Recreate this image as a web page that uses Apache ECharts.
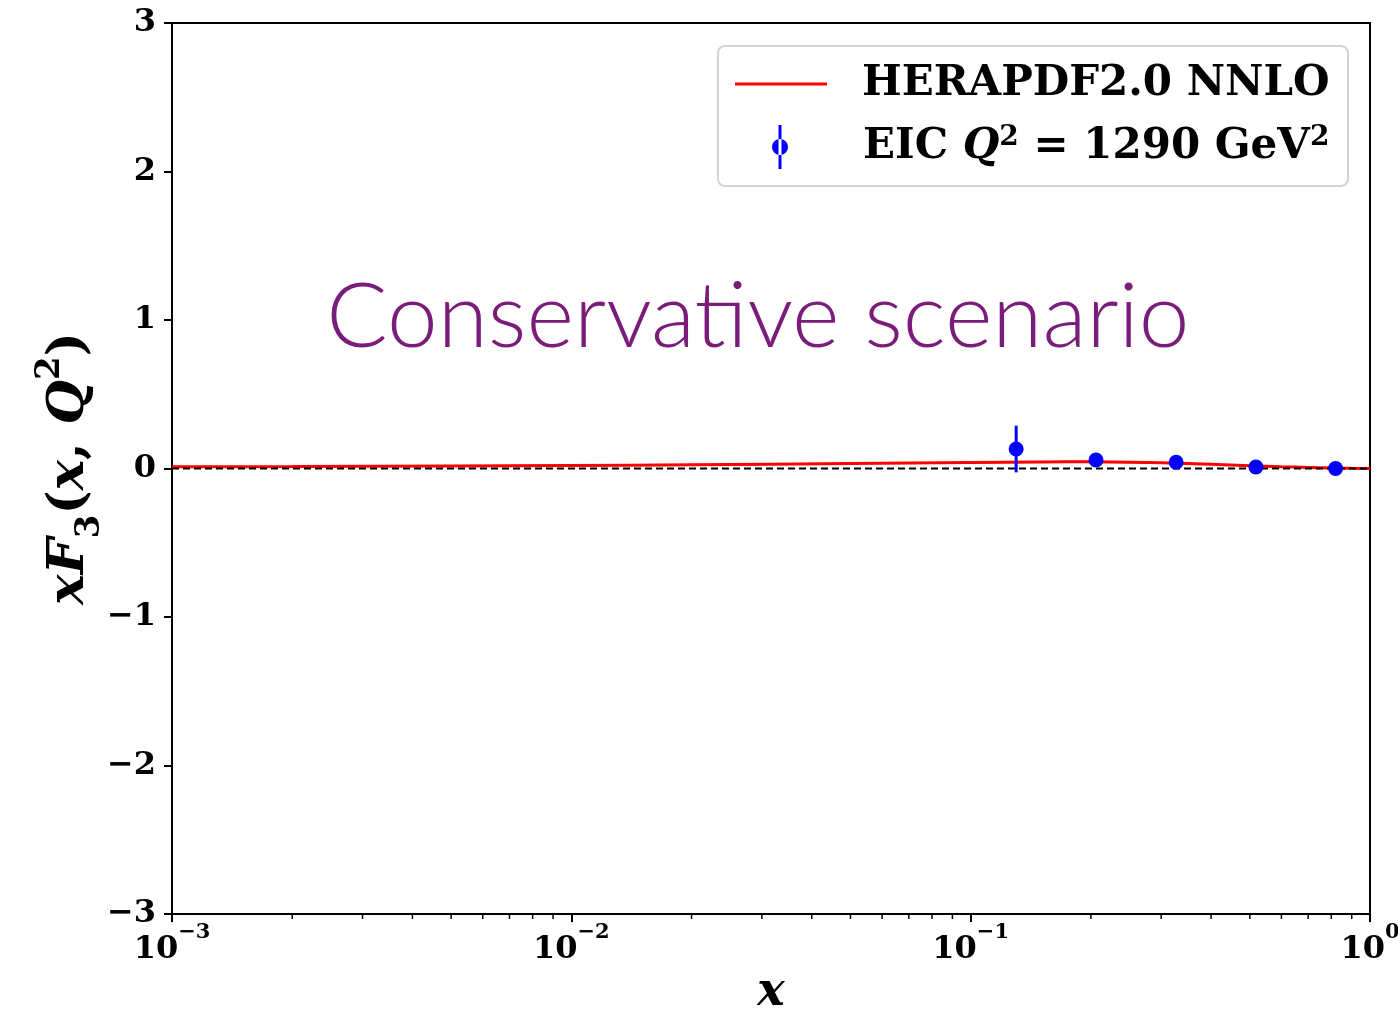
<!DOCTYPE html>
<html>
<head>
<meta charset="utf-8">
<script src="https://cdn.jsdelivr.net/npm/echarts@6/dist/echarts.min.js"></script>
<style>
  html, body { margin: 0; padding: 0; background: #fff; }
  #chart { width: 1398px; height: 1020px; }
</style>
</head>
<body>
<div id="chart"></div>
<script>
// EIC pseudo-data points (bin centres in x) with uncertainties
const xPoints = [0.13, 0.206, 0.327, 0.518, 0.82];
const yPoints = [0.131, 0.057, 0.042, 0.010, 0.0];
const yErrors = [0.157, 0.02, 0.015, 0.01, 0.008];

// HERAPDF2.0 NNLO prediction for xF3
const curveX = [0.001, 0.002, 0.005, 0.01, 0.02, 0.05, 0.1, 0.15, 0.2, 0.3, 0.4, 0.5, 0.6, 0.7, 0.8, 0.9, 1.0];
const curveY = [0.012, 0.013, 0.017, 0.020, 0.025, 0.034, 0.041, 0.044, 0.045, 0.038, 0.028, 0.019, 0.012, 0.007, 0.003, 0.001, 0.0];

const xDecades = [-3, -2, -1, 0];
const minorMultipliers = [2, 3, 4, 5, 6, 7, 8, 9];

const curveName = 'HERAPDF2.0 NNLO';
const dataName = 'EIC Q2 = 1290 GeV2';

const SERIF = '"DejaVu Serif", "Liberation Serif", serif';

const curve = curveX.map((x, i) => [x, curveY[i]]);
const points = xPoints.map((x, i) => [x, yPoints[i]]);
const errBars = xPoints.map((x, i) => [x, yPoints[i], yErrors[i]]);

// minor tick positions on the log axis (2..9 x 10^k)
const minorTicks = [];
xDecades.slice(0, -1).forEach(k => {
  minorMultipliers.forEach(m => minorTicks.push([m * Math.pow(10, k), -3]));
});

const chart = echarts.init(document.getElementById('chart'), null, { renderer: 'canvas' });

const mathRich = {
  n: { fontFamily: SERIF, fontWeight: 'bold', fontSize: 32, color: '#000', lineHeight: 44, verticalAlign: 'bottom' },
  s: { fontFamily: SERIF, fontWeight: 'bold', fontSize: 21, color: '#000', lineHeight: 22, verticalAlign: 'top' }
};

const legendRich = {
  gap1: { width: 30 },
  gap2: { width: 70 },
  t: { fontFamily: SERIF, fontWeight: 'bold', fontSize: 42, color: '#000', lineHeight: 46 },
  i: { fontFamily: SERIF, fontWeight: 'bold', fontStyle: 'italic', fontSize: 42, color: '#000', lineHeight: 46 },
  s: { fontFamily: SERIF, fontWeight: 'bold', fontSize: 28, color: '#000', lineHeight: 28, verticalAlign: 'top' }
};

const option = {
  animation: false,
  backgroundColor: '#fff',
  grid: {
    left: 172, right: 28, top: 23, bottom: 106,
    outerBoundsMode: 'none',
    containLabel: false,
    show: true, borderColor: '#000', borderWidth: 2, backgroundColor: 'transparent'
  },
  xAxis: {
    type: 'log',
    logBase: 10,
    min: 0.001,
    max: 1,
    name: 'x',
    nameLocation: 'middle',
    nameGap: 56,
    nameMoveOverlap: false,
    nameTextStyle: { fontFamily: SERIF, fontWeight: 'bold', fontStyle: 'italic', fontSize: 46, color: '#000' },
    axisLine: { show: true, onZero: false, lineStyle: { color: '#000', width: 2 } },
    axisTick: { show: true, length: 8, lineStyle: { color: '#000', width: 2 } },
    splitLine: { show: false },
    axisLabel: {
      margin: 8,
      color: '#000',
      formatter: v => {
        const e = Math.round(Math.log10(v));
        const exp = e < 0 ? '−' + (-e) : String(e);
        return '{n|10}{s|' + exp + '}';
      },
      rich: mathRich
    }
  },
  yAxis: {
    type: 'value',
    min: -3,
    max: 3,
    interval: 1,
    name: '{i|x}{i|F}{b|3}{r|(}{i|x}{r|, }{i|Q}{p|2}{r|)}',
    nameLocation: 'middle',
    nameRotate: 90,
    nameGap: 65,
    nameMoveOverlap: false,
    nameTextStyle: {
      rich: {
        i: { fontFamily: SERIF, fontWeight: 'bold', fontStyle: 'italic', fontSize: 51, color: '#000', lineHeight: 74 },
        r: { fontFamily: SERIF, fontWeight: 'bold', fontSize: 51, color: '#000', lineHeight: 74 },
        b: { fontFamily: SERIF, fontWeight: 'bold', fontSize: 34, color: '#000', lineHeight: 46, verticalAlign: 'bottom' },
        p: { fontFamily: SERIF, fontWeight: 'bold', fontSize: 34, color: '#000', lineHeight: 46, verticalAlign: 'top' }
      }
    },
    axisLine: { show: true, onZero: false, lineStyle: { color: '#000', width: 2 } },
    axisTick: { show: true, length: 8, lineStyle: { color: '#000', width: 2 } },
    splitLine: { show: false },
    axisLabel: {
      margin: 16,
      color: '#000',
      fontFamily: SERIF,
      fontWeight: 'bold',
      fontSize: 32,
      formatter: v => (v < 0 ? '−' + (-v) : String(v))
    }
  },
  legend: [
    {
      data: [curveName],
      left: 735,
      top: 63,
      padding: 0,
      itemWidth: 92,
      itemHeight: 3,
      icon: 'rect',
      selectedMode: false,
      z: 6,
      formatter: () => '{gap1|}{t|HERAPDF2.0 NNLO}',
      textStyle: { rich: legendRich }
    },
    {
      data: [dataName],
      left: 772,
      top: 124,
      padding: 0,
      itemWidth: 16,
      itemHeight: 44,
      icon: 'path://M6.5,0h3v44h-3z M0,22a8,8 0 1,0 16,0a8,8 0 1,0 -16,0z',
      selectedMode: false,
      z: 6,
      itemStyle: { opacity: 1 },
      formatter: () => '{gap2|}{t|EIC }{i|Q}{s|2}{t| = 1290 GeV}{s|2}',
      textStyle: { rich: legendRich }
    }
  ],
  graphic: [
    {
      type: 'rect',
      z: 5,
      shape: { x: 718, y: 46, width: 630, height: 140, r: 7 },
      style: { fill: 'rgba(255,255,255,0.8)', stroke: '#d3d3d3', lineWidth: 2 }
    },
    {
      type: 'text',
      z: 5,
      x: 758,
      y: 318,
      style: {
        text: 'Conservative scenario',
        fill: '#7a1c7a',
        font: '300 91px Lato, "Open Sans", sans-serif',
        textAlign: 'center',
        textVerticalAlign: 'middle'
      }
    }
  ],
  series: [
    {
      name: curveName,
      type: 'line',
      data: curve,
      smooth: 0.3,
      showSymbol: false,
      color: '#ff0000',
      lineStyle: { color: '#ff0000', width: 3 },
      z: 2
    },
    {
      name: 'zero',
      type: 'line',
      data: [[0.001, 0], [1, 0]],
      showSymbol: false,
      lineStyle: { color: '#000', width: 2, type: [7, 4] },
      z: 3
    },
    {
      name: dataName,
      type: 'scatter',
      data: points,
      symbol: 'circle',
      symbolSize: 15,
      color: '#0000ff',
      itemStyle: { color: '#0000ff', opacity: 1 },
      z: 5
    },
    {
      name: 'errors',
      type: 'custom',
      data: errBars,
      z: 4,
      renderItem: (params, api) => {
        const x = api.value(0), y = api.value(1), e = api.value(2);
        const p1 = api.coord([x, y - e]);
        const p2 = api.coord([x, y + e]);
        return {
          type: 'line',
          shape: { x1: p1[0], y1: p1[1], x2: p2[0], y2: p2[1] },
          style: { stroke: '#0000ff', lineWidth: 3 }
        };
      }
    },
    {
      name: 'minorTicks',
      type: 'custom',
      data: minorTicks,
      clip: false,
      silent: true,
      renderItem: (params, api) => {
        const p = api.coord([api.value(0), api.value(1)]);
        return {
          type: 'line',
          shape: { x1: p[0], y1: p[1], x2: p[0], y2: p[1] + 5 },
          style: { stroke: '#000', lineWidth: 1.5 }
        };
      }
    }
  ]
};

chart.setOption(option);
</script>
</body>
</html>
